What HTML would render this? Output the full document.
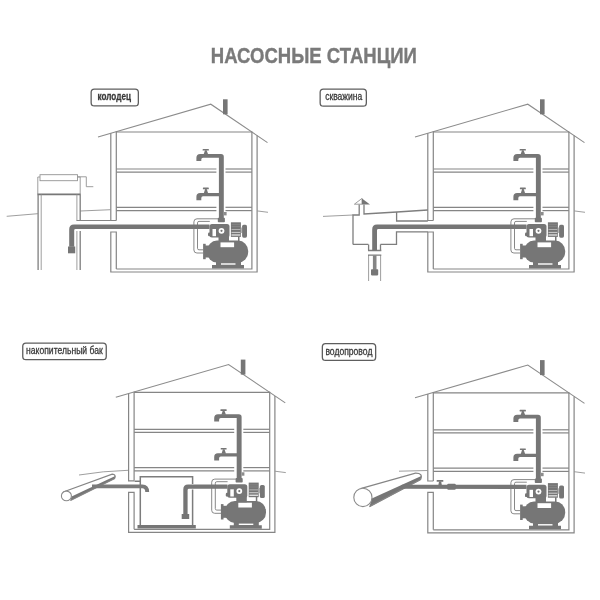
<!DOCTYPE html>
<html lang="ru">
<head>
<meta charset="utf-8">
<title>Насосные станции</title>
<style>
html,body{margin:0;padding:0;background:#fff;}
body{width:600px;height:600px;overflow:hidden;}
svg{display:block;font-family:"Liberation Sans",sans-serif;filter:blur(0.4px);}
.ln{fill:none;stroke:#858585;stroke-width:1.2;}
.ln2{fill:none;stroke:#939393;stroke-width:0.9;}
.rf{fill:none;stroke:#8c8c8c;stroke-width:1.1;}
.lp{fill:none;stroke:#888;stroke-width:1;}
.ln3{fill:none;stroke:#7e7e7e;stroke-width:1.3;}
.dk{fill:#767676;stroke:none;}
</style>
</head>
<body>
<svg width="600" height="600" viewBox="0 0 600 600">
<rect width="600" height="600" fill="#fff"/>
<text x="210.8" y="63" font-size="22.9" font-weight="bold" fill="#7a7a7a" stroke="#7a7a7a" stroke-width="0.4" textLength="206" lengthAdjust="spacingAndGlyphs">НАСОСНЫЕ СТАНЦИИ</text>
<rect x="91.15" y="89.15" width="47.20" height="16.70" rx="3.2" fill="#fff" stroke="#5e5e5e" stroke-width="1.3"/>
<text x="97.6" y="100.1" font-size="10.4" font-weight="bold" fill="#3a3a3a" stroke="#3a3a3a" stroke-width="0.3" textLength="33.3" lengthAdjust="spacingAndGlyphs">колодец</text>
<rect x="320.15" y="89.15" width="46.20" height="17.00" rx="3.2" fill="#fff" stroke="#5e5e5e" stroke-width="1.3"/>
<text x="325.2" y="100.4" font-size="10.4" font-weight="normal" fill="#3a3a3a" stroke="#3a3a3a" stroke-width="0.3" textLength="37.1" lengthAdjust="spacingAndGlyphs">скважина</text>
<rect x="22.75" y="343.05" width="83.50" height="16.60" rx="3.2" fill="#fff" stroke="#5e5e5e" stroke-width="1.3"/>
<text x="26.1" y="354.2" font-size="10.4" font-weight="normal" fill="#3a3a3a" stroke="#3a3a3a" stroke-width="0.3" textLength="76.6" lengthAdjust="spacingAndGlyphs">накопительный бак</text>
<rect x="322.35" y="343.65" width="53.30" height="16.70" rx="3.2" fill="#fff" stroke="#5e5e5e" stroke-width="1.3"/>
<text x="325.4" y="354.7" font-size="10.4" font-weight="normal" fill="#3a3a3a" stroke="#3a3a3a" stroke-width="0.3" textLength="47.0" lengthAdjust="spacingAndGlyphs">водопровод</text>
<g transform="translate(0,0)">
<polyline class="rf" points="98,137 210.8,104.2 267.5,142.6"/>
<rect class="dk" x="223" y="99.3" width="4.6" height="15"/>
<line class="ln" x1="116.3" y1="132" x2="251.9" y2="132"/>
<polyline class="ln" points="110.8,133.3 110.8,220.5 116.3,220.5"/>
<line class="ln" x1="116.3" y1="131.5" x2="116.3" y2="220.5"/>
<polyline class="ln" points="116.3,269 116.3,232.0 110.8,232.0 110.8,272 257.1,272 257.1,135.6"/>
<polyline class="ln" points="116.3,269 251.9,269 251.9,131.5"/>
<line class="ln" x1="116.3" y1="169" x2="216.4" y2="169"/>
<line class="ln" x1="225.5" y1="169" x2="251.9" y2="169"/>
<line class="ln" x1="116.3" y1="172.1" x2="216.4" y2="172.1"/>
<line class="ln" x1="225.5" y1="172.1" x2="251.9" y2="172.1"/>
<line class="ln" x1="116.3" y1="207.3" x2="216.4" y2="207.3"/>
<line class="ln" x1="225.5" y1="207.3" x2="251.9" y2="207.3"/>
<line class="ln" x1="116.3" y1="210.6" x2="216.4" y2="210.6"/>
<line class="ln" x1="225.5" y1="210.6" x2="251.9" y2="210.6"/>
<line class="ln2" x1="257.1" y1="210.9" x2="268" y2="212.3"/>
<path class="dk" d="M196.4,161.1 V157.8 Q196.4,154 200.2,154 H221 Q223.8,154 223.8,156.8 V218.5 H218.9 V157.7 H203 Q201.3,157.7 201.3,159.4 V161.1 Z"/>
<rect class="dk" x="202.6" y="149" width="6.3" height="1.6" rx="0.4"/>
<path class="dk" d="M205,150.3 H206.6 L208.2,154.4 H203.6 Z"/>
<path class="dk" d="M196.4,200.2 V196.7 Q196.4,193 200.1,193 H219.5 V196.3 H203 Q201.3,196.3 201.3,198 V200.2 Z"/>
<rect class="dk" x="202.9" y="187.6" width="5.9" height="1.7" rx="0.4"/>
<path class="dk" d="M205.1,189 H206.7 L208.2,193.4 H203.7 Z"/>
<rect fill="#8c8c8c" x="223.8" y="212" width="2.8" height="3.4"/>
<rect class="dk" x="217.8" y="217.8" width="7.1" height="4.4" rx="0.8"/>
<path class="lp" d="M218.2,218.8 H197 Q193.9,218.8 193.9,221.9 V250 Q193.9,253 196.9,253 H203.3"/>
<path class="lp" d="M209.8,221.4 H199 Q197.5,221.4 197.5,222.9 V248.3 Q197.5,249.8 199,249.8 H203.3"/>
<rect class="dk" x="207" y="240.6" width="41.2" height="22" rx="10" ry="10.5"/>
<rect class="dk" x="203.1" y="243.8" width="2.6" height="15.4"/>
<rect class="dk" x="205" y="245.5" width="5" height="12"/>
<rect fill="#fff" x="220.5" y="242.4" width="13.6" height="4.8"/>
<path class="dk" d="M216,261 H241 V265 H244 V268.5 H212 V265 H216 Z"/>
<rect fill="#fff" x="221" y="263.3" width="14.5" height="1.4"/>
<rect class="dk" x="209.5" y="224" width="20" height="13.5" rx="2.5"/>
<rect class="dk" x="208" y="232.5" width="4" height="3.8" rx="1.2"/>
<rect class="dk" x="218.5" y="236" width="10.5" height="6"/>
<rect fill="#fff" x="212.5" y="229" width="3.5" height="7.2"/>
<circle cx="221.5" cy="230.8" r="2.9" fill="#fff"/>
<circle cx="221.5" cy="230.8" r="1.1" class="dk"/>
<rect class="dk" x="230.9" y="222.3" width="10" height="14.6"/>
<rect fill="#c4c4c4" x="231.5" y="229.2" width="8.8" height="0.8"/>
<rect fill="#d0d0d0" x="231.5" y="231.9" width="8.8" height="1.0"/>
<rect fill="#dcdcdc" x="231.5" y="234.3" width="8.8" height="1.4"/>
<rect fill="#8e8e8e" x="231.5" y="224.3" width="8.8" height="0.6"/>
<rect fill="#8e8e8e" x="231.5" y="226.4" width="8.8" height="0.6"/>
<rect fill="#b4b4b4" x="240.9" y="227.5" width="1.4" height="5.5"/>
<rect class="dk" x="242.1" y="224.7" width="4.9" height="13" rx="1.6"/>
<rect class="dk" x="238" y="236.5" width="1.5" height="7"/>
</g>
<g transform="translate(317,0)">
<polyline class="rf" points="98,137 210.8,104.2 267.5,142.6"/>
<rect class="dk" x="223" y="99.3" width="4.6" height="15"/>
<line class="ln" x1="116.3" y1="132" x2="251.9" y2="132"/>
<polyline class="ln" points="110.8,133.3 110.8,220.5 116.3,220.5"/>
<line class="ln" x1="116.3" y1="131.5" x2="116.3" y2="220.5"/>
<polyline class="ln" points="116.3,269 116.3,232.0 110.8,232.0 110.8,272 257.1,272 257.1,135.6"/>
<polyline class="ln" points="116.3,269 251.9,269 251.9,131.5"/>
<line class="ln" x1="116.3" y1="169" x2="216.4" y2="169"/>
<line class="ln" x1="225.5" y1="169" x2="251.9" y2="169"/>
<line class="ln" x1="116.3" y1="172.1" x2="216.4" y2="172.1"/>
<line class="ln" x1="225.5" y1="172.1" x2="251.9" y2="172.1"/>
<line class="ln" x1="116.3" y1="207.3" x2="216.4" y2="207.3"/>
<line class="ln" x1="225.5" y1="207.3" x2="251.9" y2="207.3"/>
<line class="ln" x1="116.3" y1="210.6" x2="216.4" y2="210.6"/>
<line class="ln" x1="225.5" y1="210.6" x2="251.9" y2="210.6"/>
<line class="ln2" x1="257.1" y1="210.9" x2="268" y2="212.3"/>
<path class="dk" d="M196.4,161.1 V157.8 Q196.4,154 200.2,154 H221 Q223.8,154 223.8,156.8 V218.5 H218.9 V157.7 H203 Q201.3,157.7 201.3,159.4 V161.1 Z"/>
<rect class="dk" x="202.6" y="149" width="6.3" height="1.6" rx="0.4"/>
<path class="dk" d="M205,150.3 H206.6 L208.2,154.4 H203.6 Z"/>
<path class="dk" d="M196.4,200.2 V196.7 Q196.4,193 200.1,193 H219.5 V196.3 H203 Q201.3,196.3 201.3,198 V200.2 Z"/>
<rect class="dk" x="202.9" y="187.6" width="5.9" height="1.7" rx="0.4"/>
<path class="dk" d="M205.1,189 H206.7 L208.2,193.4 H203.7 Z"/>
<rect fill="#8c8c8c" x="223.8" y="212" width="2.8" height="3.4"/>
<rect class="dk" x="217.8" y="217.8" width="7.1" height="4.4" rx="0.8"/>
<path class="lp" d="M218.2,218.8 H197 Q193.9,218.8 193.9,221.9 V250 Q193.9,253 196.9,253 H203.3"/>
<path class="lp" d="M209.8,221.4 H199 Q197.5,221.4 197.5,222.9 V248.3 Q197.5,249.8 199,249.8 H203.3"/>
<rect class="dk" x="207" y="240.6" width="41.2" height="22" rx="10" ry="10.5"/>
<rect class="dk" x="203.1" y="243.8" width="2.6" height="15.4"/>
<rect class="dk" x="205" y="245.5" width="5" height="12"/>
<rect fill="#fff" x="220.5" y="242.4" width="13.6" height="4.8"/>
<path class="dk" d="M216,261 H241 V265 H244 V268.5 H212 V265 H216 Z"/>
<rect fill="#fff" x="221" y="263.3" width="14.5" height="1.4"/>
<rect class="dk" x="209.5" y="224" width="20" height="13.5" rx="2.5"/>
<rect class="dk" x="208" y="232.5" width="4" height="3.8" rx="1.2"/>
<rect class="dk" x="218.5" y="236" width="10.5" height="6"/>
<rect fill="#fff" x="212.5" y="229" width="3.5" height="7.2"/>
<circle cx="221.5" cy="230.8" r="2.9" fill="#fff"/>
<circle cx="221.5" cy="230.8" r="1.1" class="dk"/>
<rect class="dk" x="230.9" y="222.3" width="10" height="14.6"/>
<rect fill="#c4c4c4" x="231.5" y="229.2" width="8.8" height="0.8"/>
<rect fill="#d0d0d0" x="231.5" y="231.9" width="8.8" height="1.0"/>
<rect fill="#dcdcdc" x="231.5" y="234.3" width="8.8" height="1.4"/>
<rect fill="#8e8e8e" x="231.5" y="224.3" width="8.8" height="0.6"/>
<rect fill="#8e8e8e" x="231.5" y="226.4" width="8.8" height="0.6"/>
<rect fill="#b4b4b4" x="240.9" y="227.5" width="1.4" height="5.5"/>
<rect class="dk" x="242.1" y="224.7" width="4.9" height="13" rx="1.6"/>
<rect class="dk" x="238" y="236.5" width="1.5" height="7"/>
</g>
<g transform="translate(17.8,260.3)">
<polyline class="rf" points="98,137 210.8,104.2 267.5,142.6"/>
<rect class="dk" x="223" y="99.3" width="4.6" height="15"/>
<line class="ln" x1="116.3" y1="132" x2="251.9" y2="132"/>
<polyline class="ln" points="110.8,133.3 110.8,220.5 116.3,220.5"/>
<line class="ln" x1="116.3" y1="131.5" x2="116.3" y2="220.5"/>
<polyline class="ln" points="116.3,269 116.3,232.0 110.8,232.0 110.8,272 257.1,272 257.1,135.6"/>
<polyline class="ln" points="116.3,269 251.9,269 251.9,131.5"/>
<line class="ln" x1="116.3" y1="169" x2="216.4" y2="169"/>
<line class="ln" x1="225.5" y1="169" x2="251.9" y2="169"/>
<line class="ln" x1="116.3" y1="172.1" x2="216.4" y2="172.1"/>
<line class="ln" x1="225.5" y1="172.1" x2="251.9" y2="172.1"/>
<line class="ln" x1="116.3" y1="207.3" x2="216.4" y2="207.3"/>
<line class="ln" x1="225.5" y1="207.3" x2="251.9" y2="207.3"/>
<line class="ln" x1="116.3" y1="210.6" x2="216.4" y2="210.6"/>
<line class="ln" x1="225.5" y1="210.6" x2="251.9" y2="210.6"/>
<line class="ln2" x1="257.1" y1="210.9" x2="268" y2="212.3"/>
<path class="dk" d="M196.4,161.1 V157.8 Q196.4,154 200.2,154 H221 Q223.8,154 223.8,156.8 V218.5 H218.9 V157.7 H203 Q201.3,157.7 201.3,159.4 V161.1 Z"/>
<rect class="dk" x="202.6" y="149" width="6.3" height="1.6" rx="0.4"/>
<path class="dk" d="M205,150.3 H206.6 L208.2,154.4 H203.6 Z"/>
<path class="dk" d="M196.4,200.2 V196.7 Q196.4,193 200.1,193 H219.5 V196.3 H203 Q201.3,196.3 201.3,198 V200.2 Z"/>
<rect class="dk" x="202.9" y="187.6" width="5.9" height="1.7" rx="0.4"/>
<path class="dk" d="M205.1,189 H206.7 L208.2,193.4 H203.7 Z"/>
<rect fill="#8c8c8c" x="223.8" y="212" width="2.8" height="3.4"/>
<rect class="dk" x="217.8" y="217.8" width="7.1" height="4.4" rx="0.8"/>
<path class="lp" d="M218.2,218.8 H197 Q193.9,218.8 193.9,221.9 V250 Q193.9,253 196.9,253 H203.3"/>
<path class="lp" d="M209.8,221.4 H199 Q197.5,221.4 197.5,222.9 V248.3 Q197.5,249.8 199,249.8 H203.3"/>
<rect class="dk" x="207" y="240.6" width="41.2" height="22" rx="10" ry="10.5"/>
<rect class="dk" x="203.1" y="243.8" width="2.6" height="15.4"/>
<rect class="dk" x="205" y="245.5" width="5" height="12"/>
<rect fill="#fff" x="220.5" y="242.4" width="13.6" height="4.8"/>
<path class="dk" d="M216,261 H241 V265 H244 V268.5 H212 V265 H216 Z"/>
<rect fill="#fff" x="221" y="263.3" width="14.5" height="1.4"/>
<rect class="dk" x="209.5" y="224" width="20" height="13.5" rx="2.5"/>
<rect class="dk" x="208" y="232.5" width="4" height="3.8" rx="1.2"/>
<rect class="dk" x="218.5" y="236" width="10.5" height="6"/>
<rect fill="#fff" x="212.5" y="229" width="3.5" height="7.2"/>
<circle cx="221.5" cy="230.8" r="2.9" fill="#fff"/>
<circle cx="221.5" cy="230.8" r="1.1" class="dk"/>
<rect class="dk" x="230.9" y="222.3" width="10" height="14.6"/>
<rect fill="#c4c4c4" x="231.5" y="229.2" width="8.8" height="0.8"/>
<rect fill="#d0d0d0" x="231.5" y="231.9" width="8.8" height="1.0"/>
<rect fill="#dcdcdc" x="231.5" y="234.3" width="8.8" height="1.4"/>
<rect fill="#8e8e8e" x="231.5" y="224.3" width="8.8" height="0.6"/>
<rect fill="#8e8e8e" x="231.5" y="226.4" width="8.8" height="0.6"/>
<rect fill="#b4b4b4" x="240.9" y="227.5" width="1.4" height="5.5"/>
<rect class="dk" x="242.1" y="224.7" width="4.9" height="13" rx="1.6"/>
<rect class="dk" x="238" y="236.5" width="1.5" height="7"/>
</g>
<g transform="translate(317,260.8)">
<polyline class="rf" points="98,137 210.8,104.2 267.5,142.6"/>
<rect class="dk" x="223" y="99.3" width="4.6" height="15"/>
<line class="ln" x1="116.3" y1="132" x2="251.9" y2="132"/>
<polyline class="ln" points="110.8,133.3 110.8,220.2 116.3,220.2"/>
<line class="ln" x1="116.3" y1="131.5" x2="116.3" y2="220.2"/>
<polyline class="ln" points="116.3,269 116.3,231.6 110.8,231.6 110.8,272 257.1,272 257.1,135.6"/>
<polyline class="ln" points="116.3,269 251.9,269 251.9,131.5"/>
<line class="ln" x1="116.3" y1="169" x2="216.4" y2="169"/>
<line class="ln" x1="225.5" y1="169" x2="251.9" y2="169"/>
<line class="ln" x1="116.3" y1="172.1" x2="216.4" y2="172.1"/>
<line class="ln" x1="225.5" y1="172.1" x2="251.9" y2="172.1"/>
<line class="ln" x1="116.3" y1="207.3" x2="216.4" y2="207.3"/>
<line class="ln" x1="225.5" y1="207.3" x2="251.9" y2="207.3"/>
<line class="ln" x1="116.3" y1="210.6" x2="216.4" y2="210.6"/>
<line class="ln" x1="225.5" y1="210.6" x2="251.9" y2="210.6"/>
<line class="ln2" x1="257.1" y1="210.9" x2="268" y2="212.3"/>
<path class="dk" d="M196.4,161.1 V157.8 Q196.4,154 200.2,154 H221 Q223.8,154 223.8,156.8 V218.5 H218.9 V157.7 H203 Q201.3,157.7 201.3,159.4 V161.1 Z"/>
<rect class="dk" x="202.6" y="149" width="6.3" height="1.6" rx="0.4"/>
<path class="dk" d="M205,150.3 H206.6 L208.2,154.4 H203.6 Z"/>
<path class="dk" d="M196.4,200.2 V196.7 Q196.4,193 200.1,193 H219.5 V196.3 H203 Q201.3,196.3 201.3,198 V200.2 Z"/>
<rect class="dk" x="202.9" y="187.6" width="5.9" height="1.7" rx="0.4"/>
<path class="dk" d="M205.1,189 H206.7 L208.2,193.4 H203.7 Z"/>
<rect fill="#8c8c8c" x="223.8" y="212" width="2.8" height="3.4"/>
<rect class="dk" x="217.8" y="217.8" width="7.1" height="4.4" rx="0.8"/>
<path class="lp" d="M218.2,218.8 H197 Q193.9,218.8 193.9,221.9 V250 Q193.9,253 196.9,253 H203.3"/>
<path class="lp" d="M209.8,221.4 H199 Q197.5,221.4 197.5,222.9 V248.3 Q197.5,249.8 199,249.8 H203.3"/>
<rect class="dk" x="207" y="240.6" width="41.2" height="22" rx="10" ry="10.5"/>
<rect class="dk" x="203.1" y="243.8" width="2.6" height="15.4"/>
<rect class="dk" x="205" y="245.5" width="5" height="12"/>
<rect fill="#fff" x="220.5" y="242.4" width="13.6" height="4.8"/>
<path class="dk" d="M216,261 H241 V265 H244 V268.5 H212 V265 H216 Z"/>
<rect fill="#fff" x="221" y="263.3" width="14.5" height="1.4"/>
<rect class="dk" x="209.5" y="224" width="20" height="13.5" rx="2.5"/>
<rect class="dk" x="208" y="232.5" width="4" height="3.8" rx="1.2"/>
<rect class="dk" x="218.5" y="236" width="10.5" height="6"/>
<rect fill="#fff" x="212.5" y="229" width="3.5" height="7.2"/>
<circle cx="221.5" cy="230.8" r="2.9" fill="#fff"/>
<circle cx="221.5" cy="230.8" r="1.1" class="dk"/>
<rect class="dk" x="230.9" y="222.3" width="10" height="14.6"/>
<rect fill="#c4c4c4" x="231.5" y="229.2" width="8.8" height="0.8"/>
<rect fill="#d0d0d0" x="231.5" y="231.9" width="8.8" height="1.0"/>
<rect fill="#dcdcdc" x="231.5" y="234.3" width="8.8" height="1.4"/>
<rect fill="#8e8e8e" x="231.5" y="224.3" width="8.8" height="0.6"/>
<rect fill="#8e8e8e" x="231.5" y="226.4" width="8.8" height="0.6"/>
<rect fill="#b4b4b4" x="240.9" y="227.5" width="1.4" height="5.5"/>
<rect class="dk" x="242.1" y="224.7" width="4.9" height="13" rx="1.6"/>
<rect class="dk" x="238" y="236.5" width="1.5" height="7"/>
</g>
<g>
<line class="ln2" x1="6.7" y1="216.3" x2="37.8" y2="213.7"/>
<path class="ln2" d="M80.3,211 L110.8,209.7"/>
<path class="ln2" d="M37.8,194.2 V177 H40 M77.5,177 H80.2 V194.2"/>
<rect class="ln2" x="40" y="174.7" width="37.5" height="6"/>
<path class="ln2" d="M77.5,176.8 H86.3 V186.7 H93.3"/>
<line x1="37.5" y1="194.3" x2="80.5" y2="194.3" stroke="#777" stroke-width="1.7"/>
<line class="ln3" x1="38.1" y1="194.3" x2="38.1" y2="270"/>
<line class="ln2" x1="41.2" y1="194.3" x2="41.2" y2="270"/>
<path class="ln2" d="M76.9,194.3 V220.6"/>
<path class="ln3" d="M80.2,194.3 V220.5"/>
<path class="ln" d="M76.5,220.5 H110.8"/>
<path class="ln2" d="M76.9,231 V270"/>
<path class="ln3" d="M80.2,231 V270"/>
<path class="dk" d="M209.5,224.5 H74 Q69.2,224.5 69.2,229.3 V246.7 H74.2 V230.3 Q74.2,228.9 75.6,228.9 H209.5 Z"/>
<rect class="dk" x="68" y="246.5" width="7.2" height="6.8"/>
</g>
<g>
<line class="ln2" x1="323" y1="216.4" x2="353" y2="215"/>
<path class="ln3" d="M353,244.4 V215 H359.2 V204.5 M364,204.5 V214 L397,212 L427.8,210"/>
<path class="ln2" fill="none" d="M354.4,204.2 L362,198.4 V204.2 Z"/>
<path class="dk" d="M362,198.4 L370,204.4 H362 Z"/>
<path class="ln3" d="M353,244.4 H368.4 M380.4,244.4 H396.5 V231.8 H427.8"/>
<path class="ln3" d="M396.6,212 V221 H427.8"/>
<path class="ln3" d="M368.6,244.4 V250.6 M380.5,244.4 V250.6"/>
<path class="ln2" d="M368.6,255 V281 M380.6,255 V281"/>
<path class="ln3" d="M368,250.5 H381.3 M368,255.1 H381.3"/>
<path class="dk" d="M526.5,224.6 H377 Q372.2,224.6 372.2,229.4 V250.4 H377 V230.5 Q377,229.1 378.4,229.1 H526.5 Z"/>
<rect fill="#858585" x="372.9" y="255.3" width="3.6" height="14.5"/>
<rect class="dk" x="371" y="269.2" width="7.2" height="6.2" rx="0.8"/>
</g>
<g>
<path class="ln2" d="M79,475 Q103,471 128,470.3"/>
<path d="M63.2,492 L112.2,474.2 Q116.4,474.4 114.6,478.6 L70.5,500.5 Z" fill="#fff" stroke="none"/>
<path d="M71.6,496.6 L115.3,476 Q115.6,477.6 114.6,478.8 L70.2,500.8 Z" class="dk"/>
<path class="ln" d="M63.2,492 L112.2,474.2 Q116.4,474.4 114.6,478.6 L70.5,500.5"/>
<ellipse cx="66.4" cy="495.9" rx="5" ry="4.8" fill="#fff" stroke="#8a8a8a" stroke-width="1.1"/>
<path d="M92,486.4 H142.2 Q147.2,486.4 147.2,492" fill="none" stroke="#7a7a7a" stroke-width="3.9"/>
<path d="M134.5,481.3 H140.3 V476.7 H192.6 V484 M192.6,489.5 V525 M140.3,477 V525" fill="none" stroke="#7c7c7c" stroke-width="1.5"/>
<rect class="dk" x="137.5" y="525" width="58.3" height="3.5"/>
<path class="dk" d="M227.5,484.6 H188 Q183.3,484.6 183.3,489.3 V514 H187.6 V490.2 Q187.6,488.8 189,488.8 H227.5 Z"/>
<rect class="dk" x="181.7" y="514" width="7.5" height="5"/>
</g>
<g>
<line class="ln2" x1="399" y1="471.2" x2="427.7" y2="470.5"/>
<path d="M360.5,488.6 L415.5,473.1 Q423.4,473 420.6,479.6 L369.5,506.6 Z" fill="#fff"/>
<path d="M371.8,498.6 L421.3,476 Q421.8,478.6 419.6,480.6 L369.3,506.9 Z" class="dk"/>
<path class="ln" d="M360.5,488.6 L415.5,473.1 Q423.4,473 420.6,479.6 L369.5,506.6"/>
<ellipse cx="362.9" cy="497.4" rx="9.1" ry="9.2" fill="#fff" stroke="#8a8a8a" stroke-width="1.1"/>
<path class="dk" d="M398,488.8 L402,484.7 H526.5 V488.9 Z"/>
<rect class="dk" x="436.6" y="480" width="6.8" height="1.7" rx="0.4"/>
<path class="dk" d="M439,481.4 H441.2 L441.8,485 H438.4 Z"/>
<rect class="dk" x="447.2" y="483.8" width="8.6" height="6" rx="1.2"/>
</g>
</svg>
</body>
</html>
